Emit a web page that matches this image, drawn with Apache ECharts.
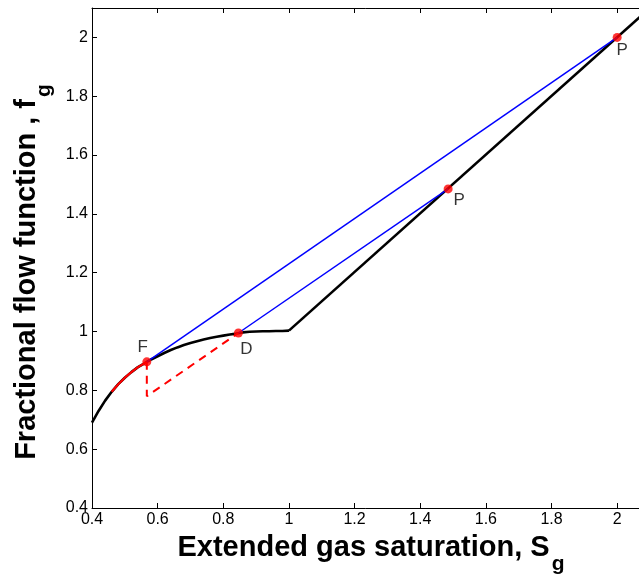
<!DOCTYPE html>
<html><head><meta charset="utf-8">
<script src="https://cdn.jsdelivr.net/npm/echarts@6/dist/echarts.min.js"></script>
<style>html,body{margin:0;padding:0;background:#fff;}#c{width:639px;height:575px;}</style>
</head><body><div id="c"></div>
<script>
// Fractional flow curve (black), x < 1
const curveSg = [0.40, 0.42, 0.44, 0.46, 0.48, 0.50, 0.52, 0.54, 0.56, 0.567, 0.58, 0.60, 0.62, 0.64, 0.66, 0.68, 0.70, 0.72, 0.74, 0.76, 0.78, 0.80, 0.82, 0.84, 0.846, 0.86, 0.88, 0.90, 0.92, 0.94, 0.96, 0.98, 1.00];
const curveFg = [0.690, 0.730, 0.765, 0.795, 0.821, 0.843, 0.862, 0.879, 0.892, 0.897, 0.905, 0.916, 0.927, 0.937, 0.946, 0.954, 0.961, 0.967, 0.973, 0.978, 0.982, 0.986, 0.990, 0.993, 0.995, 0.997, 0.999, 1.000, 1.001, 1.001, 1.002, 1.002, 1.003];
// Linear branch (black), x >= 1
const lineSg = [1.0, 2.1];
const lineFg = [1.003, 2.1];
// Red part of curve
const redSg = [0.46, 0.48, 0.50, 0.52, 0.54, 0.56, 0.567];
const redFg = [0.795, 0.821, 0.843, 0.862, 0.879, 0.892, 0.897];
// Red dashed path F -> corner -> D
const dashSg = [0.567, 0.567, 0.846];
const dashFg = [0.897, 0.78, 0.995];
// Blue chords
const blue1Sg = [0.567, 2.0];
const blue1Fg = [0.897, 2.0];
const blue2Sg = [0.846, 1.485];
const blue2Fg = [0.995, 1.485];
// Marked points
const ptNames = ['F', 'D', 'P', 'P'];
const ptSg = [0.567, 0.846, 1.485, 2.0];
const ptFg = [0.897, 0.995, 1.485, 2.0];

const zip = (a, b) => a.map((v, i) => [v, b[i]]);
const labelOffsets = [[-4, -15], [8, 16], [11, 11], [5, 13]];

const chart = echarts.init(document.getElementById('c'), null, {renderer: 'canvas'});
const font = 'Liberation Sans, Arial, sans-serif';
const nameRich = {
  a: {fontSize: 29, fontWeight: 'bold', fontFamily: font, color: '#000'},
  s: {fontSize: 21, fontWeight: 'bold', fontFamily: font, color: '#000', padding: [34, 0, 0, 2]}
};
chart.setOption({
  animation: false,
  grid: {left: 92, top: 8, right: -11, bottom: 67, containLabel: false, outerBoundsMode: 'none'},
  xAxis: [{
    type: 'value', min: 0.4, max: 2.1, interval: 0.2,
    axisLine: {lineStyle: {color: '#000', width: 1}},
    axisTick: {inside: true, length: 5, lineStyle: {color: '#000'}},
    splitLine: {show: false},
    axisLabel: {color: '#000', fontSize: 16, fontFamily: font, margin: 4, showMaxLabel: false, formatter: v => String(+v.toFixed(1))},
    name: '{a|Extended gas saturation, S}{s|g}',
    nameLocation: 'middle', nameGap: 12,
    nameTextStyle: {rich: nameRich}
  }, {
    type: 'value', position: 'top', min: 0.4, max: 2.1, interval: 0.2,
    axisLine: {lineStyle: {color: '#000', width: 1}},
    axisTick: {inside: true, length: 5, lineStyle: {color: '#000'}},
    axisLabel: {show: false}, splitLine: {show: false}
  }],
  yAxis: [{
    type: 'value', min: 0.4, max: 2.1, interval: 0.2,
    axisLine: {lineStyle: {color: '#000', width: 1}},
    axisTick: {inside: true, length: 5, lineStyle: {color: '#000'}},
    splitLine: {show: false},
    axisLabel: {color: '#000', fontSize: 16, fontFamily: font, margin: 4, showMaxLabel: false, formatter: v => String(+v.toFixed(1))},
    name: '{a|Fractional flow function , f}{s|g}',
    nameLocation: 'middle', nameGap: 37,
    nameTextStyle: {rich: nameRich, padding: [0, 28, 0, 0]}
  }],
  series: [
    {type: 'line', data: zip(curveSg, curveFg), showSymbol: false, lineStyle: {color: '#000', width: 2.6, join: 'round'}, z: 2},
    {type: 'line', data: zip(lineSg, lineFg), showSymbol: false, lineStyle: {color: '#000', width: 2.6}, z: 2},
    {type: 'line', data: zip(redSg, redFg), showSymbol: false, lineStyle: {color: '#f00', width: 2.2, join: 'round'}, z: 3},
    {type: 'line', data: zip(dashSg, dashFg), showSymbol: false, lineStyle: {color: '#f00', width: 2, type: [8, 6]}, z: 3},
    {type: 'line', data: zip(blue1Sg, blue1Fg), showSymbol: false, lineStyle: {color: '#0000ff', width: 1.5}, z: 4},
    {type: 'line', data: zip(blue2Sg, blue2Fg), showSymbol: false, lineStyle: {color: '#0000ff', width: 1.5}, z: 4},
    {type: 'scatter', symbol: 'circle', symbolSize: 9, itemStyle: {color: '#f00'}, z: 5,
     data: ptNames.map((n, i) => ({value: [ptSg[i], ptFg[i]], label: {show: true, formatter: n, color: '#000', fontSize: 17, fontFamily: font, position: 'inside', offset: labelOffsets[i]}}))}
  ]
});
</script></body></html>
